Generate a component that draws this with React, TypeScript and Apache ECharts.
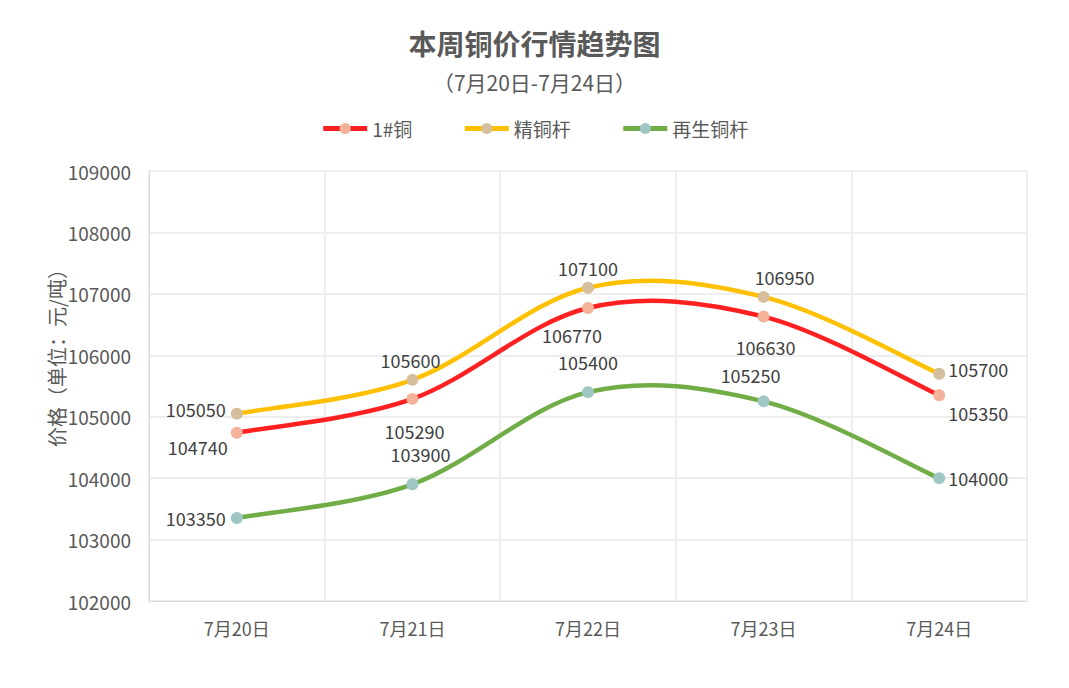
import React, { useEffect, useRef } from "react";
import * as echarts from "echarts";

const categories = ["7月20日", "7月21日", "7月22日", "7月23日", "7月24日"];
const copper1 = [104740, 105290, 106770, 106630, 105350];
const copperRod = [105050, 105600, 107100, 106950, 105700];
const recycledRod = [103350, 103900, 105400, 105250, 104000];
const seriesNames = ["1#铜", "精铜杆", "再生铜杆"];
const yTicks = [102000, 109000, 1000];
const yAxisName = "价格（单位：元/吨）";

const FONT = "'Noto Sans CJK SC', 'Noto Sans', sans-serif";

type LabelCfg = { position: string; offset: [number, number] };

const labelCfg1: LabelCfg[] = [
  { position: "left", offset: [2, 14] },
  { position: "bottom", offset: [2, 12] },
  { position: "bottom", offset: [-16, 7] },
  { position: "bottom", offset: [2, 10] },
  { position: "right", offset: [-2, 18] },
];
const labelCfg2: LabelCfg[] = [
  { position: "left", offset: [0, -5] },
  { position: "top", offset: [-2, 0] },
  { position: "top", offset: [0, 0] },
  { position: "top", offset: [21, 0] },
  { position: "right", offset: [-2, -5] },
];
const labelCfg3: LabelCfg[] = [
  { position: "left", offset: [0, 0] },
  { position: "top", offset: [8, -10] },
  { position: "top", offset: [0, -10] },
  { position: "top", offset: [-13, -6] },
  { position: "right", offset: [-2, 0] },
];

function buildData(values: number[], cfg: LabelCfg[]) {
  return values.map((v, i) => ({
    value: v,
    label: { position: cfg[i].position, offset: cfg[i].offset },
  }));
}

// Catmull-Rom style smoothing (like spreadsheet smoothed lines), computed
// from pixel coordinates obtained through the chart's own scales.
function smoothPath(pts: number[][]) {
  const n = pts.length;
  let d = `M${pts[0][0]},${pts[0][1]}`;
  for (let i = 0; i < n - 1; i++) {
    const p0 = pts[Math.max(0, i - 1)];
    const p1 = pts[i];
    const p2 = pts[i + 1];
    const p3 = pts[Math.min(n - 1, i + 2)];
    const c1x = p1[0] + (p2[0] - p0[0]) / 6;
    const c1y = p1[1] + (p2[1] - p0[1]) / 6;
    const c2x = p2[0] - (p3[0] - p1[0]) / 6;
    const c2y = p2[1] - (p3[1] - p1[1]) / 6;
    d += ` C${c1x},${c1y} ${c2x},${c2y} ${p2[0]},${p2[1]}`;
  }
  return d;
}

export default function App() {
  const ref = useRef<HTMLDivElement>(null);
  useEffect(() => {
    if (!ref.current) return;
    const chart = echarts.init(ref.current, undefined, { renderer: "svg" });
    const mkSeries = (
      name: string,
      values: number[],
      cfg: LabelCfg[],
      lineColor: string,
      markerColor: string
    ) => ({
      name,
      type: "line",
      z: 3,
      data: buildData(values, cfg),
      symbol: "circle",
      symbolSize: 12,
      lineStyle: { width: 4, color: lineColor, opacity: 0 },
      itemStyle: { color: markerColor },
      label: {
        show: true,
        color: "#404040",
        fontSize: 18,
        lineHeight: 18,
        fontFamily: FONT,
      },
    });
    const mkCurve = (values: number[], lineColor: string) => ({
      type: "custom",
      coordinateSystem: "cartesian2d",
      z: 1,
      silent: true,
      data: values.map((v, i) => [i, v]),
      renderItem: (params: any, api: any) => {
        if (params.dataIndex !== 0) return null;
        const pts = values.map((v, i) => api.coord([i, v]));
        return {
          type: "path",
          shape: { pathData: smoothPath(pts) },
          style: { stroke: lineColor, lineWidth: 4.5, fill: "none" },
        };
      },
    });
    chart.setOption({
      animation: false,
      backgroundColor: "#ffffff",
      title: {
        text: "本周铜价行情趋势图",
        subtext: "（7月20日-7月24日）",
        left: "center",
        top: 24,
        itemGap: 14,
        textStyle: {
          fontSize: 28,
          fontWeight: "bold",
          color: "#595959",
          fontFamily: FONT,
        },
        subtextStyle: {
          fontSize: 21,
          color: "#595959",
          fontFamily: FONT,
        },
      },
      legend: {
        top: 114,
        left: "center",
        itemWidth: 44,
        itemHeight: 14,
        itemGap: 50,
        lineStyle: { opacity: 1, width: 5 },
        textStyle: { fontSize: 19, color: "#595959", fontFamily: FONT },
        data: seriesNames,
      },
      graphic: [
        {
          type: "text",
          x: 56,
          y: 353,
          rotation: Math.PI / 2,
          style: {
            text: yAxisName,
            fontSize: 20,
            fill: "#595959",
            fontFamily: FONT,
            align: "center",
            verticalAlign: "middle",
          },
        },
      ],
      grid: { left: 149, right: 42, top: 171, bottom: 87 },
      xAxis: {
        type: "category",
        data: categories,
        boundaryGap: true,
        axisLine: { lineStyle: { color: "#d9d9d9", width: 1 } },
        axisTick: { show: false },
        splitLine: { show: true, lineStyle: { color: "#eeeeee", width: 2 } },
        axisLabel: {
          color: "#595959",
          fontSize: 18,
          fontFamily: FONT,
          margin: 18,
        },
      },
      yAxis: {
        type: "value",
        min: yTicks[0],
        max: yTicks[1],
        interval: yTicks[2],
        axisLine: { show: true, lineStyle: { color: "#d9d9d9" } },
        axisTick: { show: false },
        splitLine: { lineStyle: { color: "#eeeeee", width: 2 } },
        axisLabel: {
          color: "#595959",
          fontSize: 19,
          fontFamily: FONT,
          margin: 18,
          formatter: (v: number) => String(v),
        },
      },
      series: [
        mkCurve(copper1, "#FF2121"),
        mkCurve(copperRod, "#FFC000"),
        mkCurve(recycledRod, "#70AD47"),
        mkSeries(seriesNames[0], copper1, labelCfg1, "#FF2121", "#F4B29A"),
        mkSeries(seriesNames[1], copperRod, labelCfg2, "#FFC000", "#D5BE9C"),
        mkSeries(seriesNames[2], recycledRod, labelCfg3, "#70AD47", "#9EC6C2"),
      ],
    });
    return () => chart.dispose();
  }, []);
  return (
    <div
      ref={ref}
      style={{ position: "fixed", left: 0, top: 0, width: 1069, height: 688 }}
    />
  );
}
